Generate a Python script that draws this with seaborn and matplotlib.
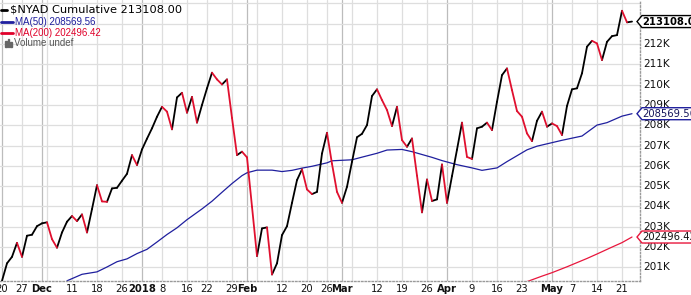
import numpy as np
import pandas as pd
import matplotlib
matplotlib.use("Agg")
import matplotlib.pyplot as plt
import seaborn as sns
from matplotlib.patches import Polygon, Rectangle
from matplotlib.lines import Line2D
from matplotlib.transforms import IdentityTransform

# ---------------- data (values in thousands) ----------------
holidays = ["2017-11-23", "2017-12-25", "2018-01-01", "2018-01-15", "2018-02-19", "2018-03-30"]
start_date = "2017-11-20"
end_date = "2018-05-23"

nyad = [200.34, 201.20, 201.52, 202.21, 201.52, 202.56, 202.61, 203.03, 203.17, 203.22,
        202.39, 201.97, 202.72, 203.25, 203.53, 203.28, 203.61, 202.72, 203.87, 205.05,
        204.25, 204.23, 204.89, 204.92, 205.27, 205.61, 206.53, 206.04, 206.81, 207.34,
        207.85, 208.42, 208.91, 208.67, 207.80, 209.37, 209.60, 208.62, 209.40, 208.13,
        209.00, 209.82, 210.59, 210.26, 210.01, 210.26, 208.36, 206.53, 206.70, 206.42,
        203.99, 201.56, 202.92, 202.97, 200.65, 201.20, 202.59, 203.03, 204.18, 205.30,
        205.83, 204.84, 204.61, 204.72, 206.61, 207.63, 206.10, 204.72, 204.18, 204.97,
        206.20, 207.41, 207.58, 208.01, 209.44, 209.77, 209.24, 208.75, 207.96, 208.91,
        207.27, 206.94, 207.35, 205.52, 203.71, 205.33, 204.27, 204.35, 206.07, 204.18,
        205.50, 206.80, 208.13, 206.44, 206.34, 207.85, 207.93, 208.13, 207.76, 209.16,
        210.47, 210.80, 209.73, 208.70, 208.42, 207.60, 207.22, 208.22, 208.67, 207.93,
        208.09, 207.96, 207.52, 208.95, 209.77, 209.82, 210.56, 211.87, 212.16, 212.03,
        211.21, 212.11, 212.39, 212.44, 213.64, 213.07, 213.108]

ma50_day = [13, 16, 19, 21, 23, 25, 27, 29, 31, 33, 35, 37, 40, 42, 44, 46, 48, 49, 51, 54,
            56, 58, 60, 62, 65, 66, 70, 72, 75, 77, 80, 82, 86, 88, 91, 94, 96, 99, 101, 105,
            107, 112, 116, 119, 121, 124, 126]
ma50 = [200.34, 200.66, 200.78, 201.02, 201.28, 201.42, 201.68, 201.89, 202.25, 202.62,
        202.95, 203.35, 203.88, 204.26, 204.70, 205.13, 205.52, 205.66, 205.79, 205.79,
        205.72, 205.78, 205.89, 205.98, 206.15, 206.25, 206.30, 206.43, 206.62, 206.78,
        206.81, 206.70, 206.42, 206.26, 206.06, 205.90, 205.78, 205.90, 206.21, 206.79,
        206.97, 207.26, 207.47, 208.01, 208.13, 208.45, 208.56956]

ma200_day = [105, 108, 110, 113, 117, 119, 122, 124, 126]
ma200 = [200.30, 200.57, 200.74, 201.03, 201.44, 201.66, 202.00, 202.22, 202.49642]

tick_dates = ["2017-11-20", "2017-11-27", "2017-12-01", "2017-12-11", "2017-12-18", "2017-12-26",
              "2018-01-02", "2018-01-08", "2018-01-16", "2018-01-22", "2018-01-29", "2018-02-01",
              "2018-02-12", "2018-02-20", "2018-02-26", "2018-03-01", "2018-03-12", "2018-03-19",
              "2018-03-26", "2018-04-02", "2018-04-09", "2018-04-16", "2018-04-23", "2018-05-01",
              "2018-05-07", "2018-05-14", "2018-05-21"]
tick_labels = ["20", "27", "Dec", "11", "18", "26", "2018", "8", "16", "22", "29", "Feb",
               "12", "20", "26", "Mar", "12", "19", "26", "Apr", "9", "16", "23", "May",
               "7", "14", "21"]
bold_labels = ["Dec", "2018", "Feb", "Mar", "Apr", "May"]

y_ticks = list(range(201, 215))
y_labelled = list(range(201, 213))

# ---------------- derived tables ----------------
dates = pd.bdate_range(start_date, end_date)
dates = dates[~dates.isin(pd.to_datetime(holidays))]
day_of = {d: i for i, d in enumerate(dates)}

rows = []
for i in range(len(nyad) - 1):
    d = "up" if nyad[i + 1] >= nyad[i] else "down"
    rows.append((i, i, nyad[i], d))
    rows.append((i, i + 1, nyad[i + 1], d))
seg = pd.DataFrame(rows, columns=["seg", "day", "value", "dir"])
df50 = pd.DataFrame({"day": ma50_day, "value": ma50})
df200 = pd.DataFrame({"day": ma200_day, "value": ma200})

# ---------------- figure ----------------
sns.set_theme(style="white")
plt.rcParams["font.family"] = ["DejaVu Sans"]
W, H = 691, 295
fig = plt.figure(figsize=(W / 100, H / 100), dpi=100)
ax = fig.add_axes([0, 14 / H, 640 / W, 281 / H])
ax.set_facecolor("white")

# grid
ser = pd.Series(range(len(dates)), index=dates)
iso = dates.isocalendar()
week_first = ser.groupby([iso.year.values, iso.week.values]).min().values
month_first = ser.groupby([dates.year, dates.month]).min().values
for d in week_first:
    if d not in month_first:
        ax.axvline(d, color="#dedede", lw=0.9, zorder=0)
for d in month_first:
    ax.axvline(d, color="#bcbcbc", lw=0.9, zorder=0)
for v in y_ticks:
    ax.axhline(v, color="#dedede", lw=0.9, zorder=0)

red = "#e0102f"
navy = "#1f1f9e"
sns.lineplot(data=df50, x="day", y="value", color=navy, lw=0.9, ax=ax, zorder=2)
sns.lineplot(data=df200, x="day", y="value", color="#e8163c", lw=0.9, ax=ax, zorder=2)
sns.lineplot(data=seg, x="day", y="value", units="seg", hue="dir", estimator=None,
             palette={"up": "#000000", "down": red}, legend=False, lw=1.3, ax=ax,
             sort=False, zorder=3)

ax.set_xlim(-0.4, 127.6)
ax.set_ylim(200.33, 214.17)
ax.set_xlabel("")
ax.set_ylabel("")

# ticks
tick_pos = [day_of[pd.Timestamp(t)] for t in tick_dates]
ax.set_xticks(tick_pos)
ax.set_xticklabels(tick_labels)
for t in ax.get_xticklabels():
    t.set_fontsize(7.2)
    t.set_color("#111111")
    if t.get_text() in bold_labels:
        t.set_fontweight("bold")
ax.tick_params(axis="x", length=0, pad=2.5)

ax.yaxis.tick_right()
ax.set_yticks(y_ticks)
ax.set_yticklabels([f"{v}K" if v in y_labelled else "" for v in y_ticks])
ax.tick_params(axis="y", length=0, pad=2, labelsize=7.6, labelcolor="#111111")
for t in ax.get_yticklabels():
    t.set_verticalalignment("center")
ax.grid(False)

for s in ["left", "top"]:
    ax.spines[s].set_visible(False)
for s in ["right", "bottom"]:
    ax.spines[s].set_color("#9a9a9a")
    ax.spines[s].set_linestyle((0, (1, 1.5)))
    ax.spines[s].set_linewidth(1.0)

# value boxes on the right
fig.canvas.draw()
x1 = ax.bbox.x1
boxes = [(nyad[-1], "#000000", "#000000", "bold"),
         (ma50[-1], navy, "#14145a", "normal"),
         (ma200[-1], "#e8163c", "#111111", "normal")]
for val, ec, tc, fw in boxes:
    yd = ax.transData.transform((0, val))[1]
    hh = 6
    poly = Polygon([(x1 - 3, yd), (x1 + 2, yd - hh), (W + 20, yd - hh), (W + 20, yd + hh),
                    (x1 + 2, yd + hh)], closed=True, facecolor="white", edgecolor=ec,
                   lw=1.0, transform=IdentityTransform(), zorder=10)
    fig.patches.append(poly)
    fig.text((x1 + 2.5) / W, yd / H, f"{val * 1000:.2f}", color=tc, fontweight=fw,
             fontsize=7.2, va="center", ha="left", zorder=11)

# legend (custom, top-left)
def ytop(px):
    return 1 - px / H

items = [("$NYAD Cumulative " + f"{nyad[-1] * 1000:.2f}", "#000000", 10, 1, 7.3, 10, "DejaVu Sans", 8.2),
         ("MA(50) " + f"{ma50[-1] * 1000:.2f}", navy, 21.7, 1, 13, 15, "Liberation Sans", 7.0),
         ("MA(200) " + f"{ma200[-1] * 1000:.2f}", "#e0002a", 33, 1, 13, 15, "Liberation Sans", 7.0)]
for txt, col, yp, xa, xb, xt, fam, fs in items:
    fig.add_artist(Line2D([xa / W, xb / W], [ytop(yp), ytop(yp)], color=col, lw=2.0,
                          transform=fig.transFigure))
    fig.text(xt / W, ytop(yp), txt, color=col, fontsize=fs, family=fam, va="center", ha="left")
for bx, bh in [(5, 6), (7.5, 8), (10, 5)]:
    fig.patches.append(Rectangle((bx / W, ytop(46.5)), 1.6 / W, bh / H, color="#666666",
                                 transform=fig.transFigure))
fig.text(14 / W, ytop(42.7), "Volume undef", color="#555555", fontsize=7.0,
         family="Liberation Sans", va="center", ha="left")

fig.savefig("out.png", dpi=100)
